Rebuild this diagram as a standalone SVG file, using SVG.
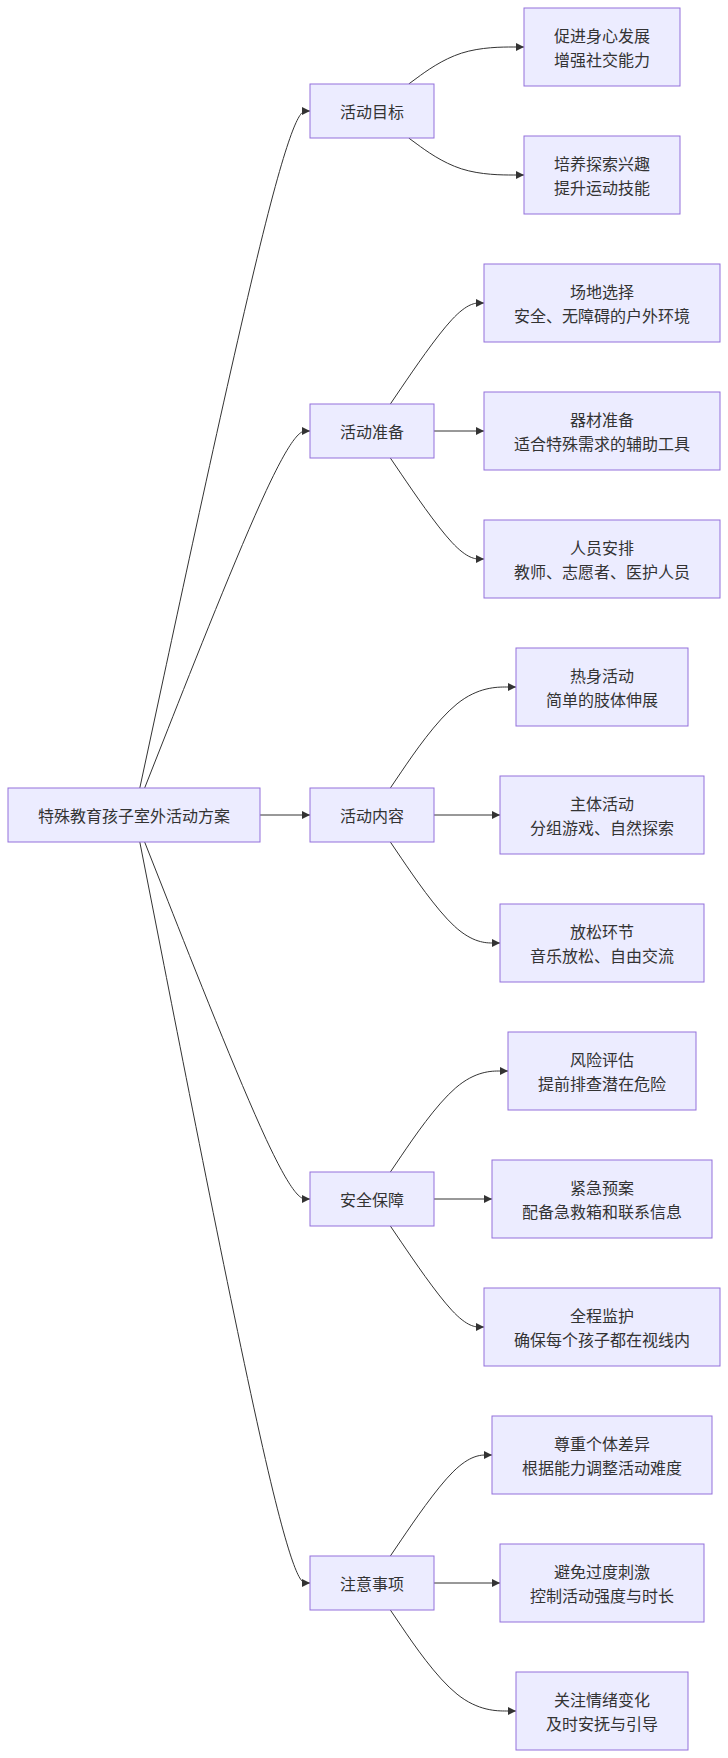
<svg xmlns="http://www.w3.org/2000/svg" width="728" height="1758" viewBox="0 0 728 1758">
<style>
.n rect{fill:#ECECFF;stroke:#9370DB;stroke-width:1}
.n text{font-family:"Noto Sans CJK SC","Liberation Sans",sans-serif;font-size:16px;fill:#333;text-anchor:middle;dominant-baseline:central}
.e path{fill:none;stroke:#333;stroke-width:1;marker-end:url(#arr)}
</style>
<defs>
<marker id="arr" viewBox="0 0 10 10" refX="10" refY="5" markerUnits="userSpaceOnUse" markerWidth="8" markerHeight="8" orient="auto">
<path d="M0,0 L10,5 L0,10 z" fill="#333"/>
</marker>
</defs>
<g id="edges" class="e">
<path d="M139.81,788 L164.09,675.17 C188.37,562.33 236.94,336.67 265.47,223.83 C294,111 302,111 306,111 L310,111"/>
<path d="M144.65,788 L168.13,728.5 C191.6,669 238.55,550 266.28,490.5 C294,431 302,431 306,431 L310,431"/>
<path d="M260,815 L310,815"/>
<path d="M144.65,842 L168.13,901.5 C191.6,961 238.55,1080 266.28,1139.5 C294,1199 302,1199 306,1199 L310,1199"/>
<path d="M139.81,842 L164.09,965.5 C188.37,1089 236.94,1336 265.47,1459.5 C294,1583 302,1583 306,1583 L310,1583"/>
<g transform="translate(-1,0)">
<path d="M409.7,84 L418.08,77.83 C426.47,71.67 443.23,59.33 462.45,53.17 C481.67,47 503.33,47 514.17,47 L525,47"/>
<path d="M409.7,138 L418.08,144.17 C426.47,150.33 443.23,162.67 462.45,168.83 C481.67,175 503.33,175 514.17,175 L525,175"/>
<path d="M391.35,404 L402.79,387.17 C414.23,370.33 437.12,336.67 452.73,319.83 C468.33,303 476.67,303 480.83,303 L485,303"/>
<path d="M435,431 L485,431"/>
<path d="M391.35,458 L402.79,474.83 C414.23,491.67 437.12,525.33 452.73,542.17 C468.33,559 476.67,559 480.83,559 L485,559"/>
<path d="M391.35,788 L402.79,771.17 C414.23,754.33 437.12,720.67 458.06,703.83 C479,687 498,687 507.5,687 L517,687"/>
<path d="M435,815 L501,815"/>
<path d="M391.35,842 L402.79,858.83 C414.23,875.67 437.12,909.33 455.39,926.17 C473.67,943 487.33,943 494.17,943 L501,943"/>
<path d="M391.35,1172 L402.79,1155.17 C414.23,1138.33 437.12,1104.67 456.73,1087.83 C476.33,1071 492.67,1071 500.83,1071 L509,1071"/>
<path d="M435,1199 L493,1199"/>
<path d="M391.35,1226 L402.79,1242.83 C414.23,1259.67 437.12,1293.33 452.73,1310.17 C468.33,1327 476.67,1327 480.83,1327 L485,1327"/>
<path d="M391.35,1556 L402.79,1539.17 C414.23,1522.33 437.12,1488.67 454.06,1471.83 C471,1455 482,1455 487.5,1455 L493,1455"/>
<path d="M435,1583 L501,1583"/>
<path d="M391.35,1610 L402.79,1626.83 C414.23,1643.67 437.12,1677.33 458.06,1694.17 C479,1711 498,1711 507.5,1711 L517,1711"/>
</g>
</g>
<g id="root" class="n"><rect x="8" y="788" width="252" height="54"/><text x="134" y="815">特殊教育孩子室外活动方案</text></g>
<g id="goal" class="n"><rect x="310" y="84" width="124" height="54"/><text x="372" y="111">活动目标</text></g>
<g id="prep" class="n"><rect x="310" y="404" width="124" height="54"/><text x="372" y="431">活动准备</text></g>
<g id="content" class="n"><rect x="310" y="788" width="124" height="54"/><text x="372" y="815">活动内容</text></g>
<g id="safety" class="n"><rect x="310" y="1172" width="124" height="54"/><text x="372" y="1199">安全保障</text></g>
<g id="notes" class="n"><rect x="310" y="1556" width="124" height="54"/><text x="372" y="1583">注意事项</text></g>
<g id="g1" class="n"><rect x="524" y="8" width="156" height="78"/><text x="602" y="35">促进身心发展</text><text x="602" y="59">增强社交能力</text></g>
<g id="g2" class="n"><rect x="524" y="136" width="156" height="78"/><text x="602" y="163">培养探索兴趣</text><text x="602" y="187">提升运动技能</text></g>
<g id="p1" class="n"><rect x="484" y="264" width="236" height="78"/><text x="602" y="291">场地选择</text><text x="602" y="315">安全、无障碍的户外环境</text></g>
<g id="p2" class="n"><rect x="484" y="392" width="236" height="78"/><text x="602" y="419">器材准备</text><text x="602" y="443">适合特殊需求的辅助工具</text></g>
<g id="p3" class="n"><rect x="484" y="520" width="236" height="78"/><text x="602" y="547">人员安排</text><text x="602" y="571">教师、志愿者、医护人员</text></g>
<g id="c1" class="n"><rect x="516" y="648" width="172" height="78"/><text x="602" y="675">热身活动</text><text x="602" y="699">简单的肢体伸展</text></g>
<g id="c2" class="n"><rect x="500" y="776" width="204" height="78"/><text x="602" y="803">主体活动</text><text x="602" y="827">分组游戏、自然探索</text></g>
<g id="c3" class="n"><rect x="500" y="904" width="204" height="78"/><text x="602" y="931">放松环节</text><text x="602" y="955">音乐放松、自由交流</text></g>
<g id="s1" class="n"><rect x="508" y="1032" width="188" height="78"/><text x="602" y="1059">风险评估</text><text x="602" y="1083">提前排查潜在危险</text></g>
<g id="s2" class="n"><rect x="492" y="1160" width="220" height="78"/><text x="602" y="1187">紧急预案</text><text x="602" y="1211">配备急救箱和联系信息</text></g>
<g id="s3" class="n"><rect x="484" y="1288" width="236" height="78"/><text x="602" y="1315">全程监护</text><text x="602" y="1339">确保每个孩子都在视线内</text></g>
<g id="n1" class="n"><rect x="492" y="1416" width="220" height="78"/><text x="602" y="1443">尊重个体差异</text><text x="602" y="1467">根据能力调整活动难度</text></g>
<g id="n2" class="n"><rect x="500" y="1544" width="204" height="78"/><text x="602" y="1571">避免过度刺激</text><text x="602" y="1595">控制活动强度与时长</text></g>
<g id="n3" class="n"><rect x="516" y="1672" width="172" height="78"/><text x="602" y="1699">关注情绪变化</text><text x="602" y="1723">及时安抚与引导</text></g>
</svg>
